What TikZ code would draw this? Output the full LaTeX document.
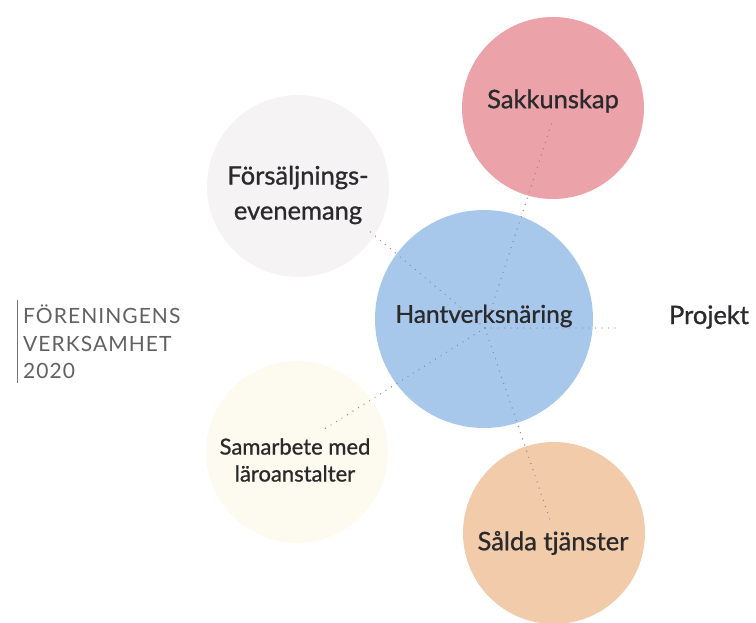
\documentclass[tikz,border=0pt]{standalone}
\usepackage{fontspec}
\setmainfont{Lato}
\definecolor{hblue}{HTML}{A8C8EB}
\definecolor{hpink}{HTML}{ECA2A9}
\definecolor{hpeach}{HTML}{F2CBAA}
\definecolor{hgrey}{HTML}{F6F3F5}
\definecolor{hyell}{HTML}{FDFBF0}
\definecolor{htext}{HTML}{2A2A2C}
\definecolor{hdot}{HTML}{8A8A90}
\tikzset{
  disc/.style={circle, inner sep=0pt, draw=none},
  lbl/.style={text=htext, align=center, inner sep=0pt},
  dotline/.style={draw=hdot, line width=1.4pt, line cap=round, dash pattern=on 0pt off 6.5pt},
}
\newcommand{\lblfont}[2]{\fontsize{#1}{#2}\selectfont\addfontfeatures{FakeBold=0.9}}
\begin{document}
\begin{tikzpicture}[x=1pt,y=1pt]
\useasboundingbox (0,0) rectangle (756,-623);
% circles
\node[disc, fill=hgrey, minimum size=182] (cF) at (298,-186) {};
\node[disc, fill=hyell, minimum size=182] (cS) at (297,-452) {};
\node[disc, fill=hpink, minimum size=182] (cK) at (553,-108) {};
\node[disc, fill=hpeach, minimum size=182] (cT) at (554,-533) {};
\node[disc, fill=hblue, minimum size=218] (cH) at (484,-319) {};
% connectors
\coordinate (hub) at (485,-328);
\coordinate (eF) at (368,-230);
\coordinate (eK) at (552,-122);
\coordinate (eP) at (617,-328);
\coordinate (eS) at (323,-430);
\coordinate (eT) at (550,-520);
\draw[dotline] (hub) -- (eF);
\draw[dotline] (hub) -- (eK);
\draw[dotline] (hub) -- (eP);
\draw[dotline] (hub) -- (eS);
\draw[dotline] (hub) -- (eT);
% labels
\node[lbl, font=\lblfont{25.5}{35}] (tF) at (298,-195) {Försäljnings-\\evenemang};
\node[lbl, font=\lblfont{22}{27}] (tS) at (295,-460) {Samarbete med\\läroanstalter};
\node[lbl, font=\lblfont{25.5}{26}] (tK) at (553,-101) {Sakkunskap};
\node[lbl, font=\lblfont{25.5}{26}] (tT) at (553,-543) {Sålda tjänster};
\node[lbl, font=\lblfont{24.5}{26}] (tH) at (484,-316) {Hantverksnäring};
\node[lbl, font=\lblfont{25.5}{26}] (tP) at (709,-317) {Projekt};
% title
\node[anchor=west, align=left, text=black!62, inner sep=0pt, font=\fontsize{21}{27.5}\selectfont\addfontfeatures{LetterSpace=5}] (title) at (23,-342) {FÖRENINGENS\\VERKSAMHET\\2020};
\draw[black!55, line width=0.8pt] (17,-300) -- (17,-383);
\end{tikzpicture}
\end{document}
